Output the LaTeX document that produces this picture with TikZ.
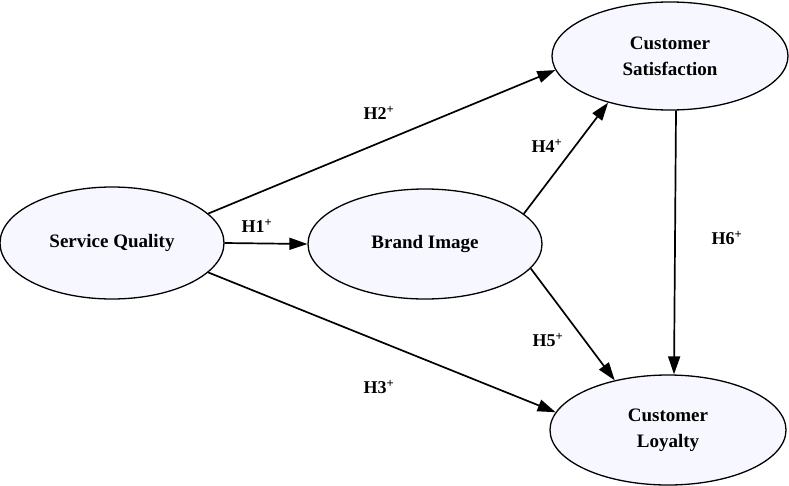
\documentclass[tikz,border=0pt]{standalone}
\usepackage{fontspec}
\setmainfont{Liberation Serif}
\usetikzlibrary{shapes.geometric,arrows.meta}
\begin{document}
\begin{tikzpicture}[x=1pt,y=-1pt,
  construct/.style={ellipse,draw=black,line width=1.3pt,fill=blue!3,inner sep=0pt,
    font=\fontsize{19}{26}\selectfont\bfseries,align=center},
  path/.style={line width=1.7pt,-{Triangle[length=18pt,width=12pt]}},
  hlabel/.style={font=\fontsize{18}{20}\selectfont\bfseries}]
\useasboundingbox (0,0) rectangle (789,485);
\node[construct,minimum width=224pt,minimum height=112pt] (SQ) at (112,243) {Service Quality};
\node[construct,minimum width=234pt,minimum height=110pt] (BI) at (425,244) {Brand Image};
\node[construct,minimum width=236pt,minimum height=108pt] (CS) at (670,56) {Customer\\Satisfaction};
\node[construct,minimum width=236pt,minimum height=110pt] (CL) at (668,430) {Customer\\Loyalty};
\draw[path] (SQ.east) -- (BI.west);
\draw[path] (SQ.17) -- (CS.187);
\draw[path] (SQ.-17) -- (CL.171);
\draw[path] (BI.17) -- (CS.217);
\draw[path] (BI.-13) -- (CL.137);
\draw[path] ([xshift=6pt]CS.south) -- ([xshift=6pt]CL.north);
\node[hlabel] (h1) at (257,226) {H1\textsuperscript{+}};
\node[hlabel] (h2) at (379,113) {H2\textsuperscript{+}};
\node[hlabel] (h3) at (379,387) {H3\textsuperscript{+}};
\node[hlabel] (h4) at (547,146) {H4\textsuperscript{+}};
\node[hlabel] (h5) at (548,340) {H5\textsuperscript{+}};
\node[hlabel] (h6) at (727,238) {H6\textsuperscript{+}};
\end{tikzpicture}
\end{document}
